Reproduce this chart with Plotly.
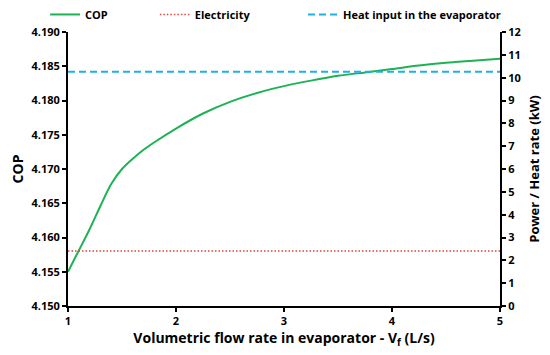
import plotly.graph_objects as go

flow = [1.0, 1.1, 1.2, 1.3, 1.4, 1.5, 1.6, 1.7, 1.8, 2.0, 2.25, 2.5, 2.75, 3.0,
        3.25, 3.5, 3.75, 4.0, 4.25, 4.5, 4.75, 5.0]
cop = [4.1550, 4.1581, 4.1612, 4.1646, 4.1678, 4.1700, 4.1715, 4.1728, 4.1739,
       4.1759, 4.1781, 4.1798, 4.1811, 4.1821, 4.1829, 4.1836, 4.1841, 4.1846,
       4.1851, 4.1855, 4.1858, 4.1861]
line_flow = [1.0, 5.0]
electricity = [2.41, 2.41]
heat_input = [10.26, 10.26]

FONT = "Open Sans"

fig = go.Figure()
fig.add_trace(go.Scatter(x=flow, y=cop, mode="lines", name="COP",
                         line=dict(color="#1db354", width=2, shape="spline",
                                   smoothing=0.8),
                         legend="legend"))
fig.add_trace(go.Scatter(x=line_flow, y=electricity, mode="lines", name="Electricity",
                         line=dict(color="#e0443a", width=1.5, dash="1.5px,2px"),
                         yaxis="y2", legend="legend2"))
fig.add_trace(go.Scatter(x=line_flow, y=heat_input, mode="lines",
                         name="Heat input in the evaporator",
                         line=dict(color="#1fb0e6", width=2, dash="7px,4px"),
                         yaxis="y2", legend="legend3"))

axis_common = dict(showline=True, linecolor="black", linewidth=2, ticks="outside",
                   tickcolor="black", tickwidth=2, ticklen=4, showgrid=False,
                   zeroline=False, automargin=False,
                   tickfont=dict(family=FONT, size=11, color="black", weight="bold"))

legfont = dict(family=FONT, size=11, color="black", weight="bold")
leg = dict(orientation="h", yanchor="middle", y=1.064, xanchor="left",
           bgcolor="rgba(0,0,0,0)", font=legfont, itemwidth=30)

fig.update_layout(
    width=542, height=347,
    margin=dict(l=60, r=50, t=24, b=49, autoexpand=False),
    plot_bgcolor="white", paper_bgcolor="white",
    showlegend=True,
    xaxis=dict(range=[1, 5], dtick=1, tickformat="d",
               title=dict(text="Volumetric flow rate in evaporator - V<sub>f</sub> (L/s)",
                          font=dict(family=FONT, size=14, color="black", weight="bold"),
                          standoff=6),
               **axis_common),
    yaxis=dict(range=[4.150, 4.190], dtick=0.005, tickformat=".3f",
               title=dict(text="COP", font=dict(family=FONT, size=14, color="black",
                                                weight="bold"), standoff=20),
               **axis_common),
    yaxis2=dict(range=[0, 12], dtick=1, overlaying="y", side="right",
                title=dict(text="Power / Heat rate (kW)",
                           font=dict(family=FONT, size=13, color="black", weight="bold"),
                           standoff=10),
                **axis_common),
    legend=dict(x=-0.053, **leg),
    legend2=dict(x=0.201, **leg),
    legend3=dict(x=0.544, **leg),
)

fig.write_html("out.html")
